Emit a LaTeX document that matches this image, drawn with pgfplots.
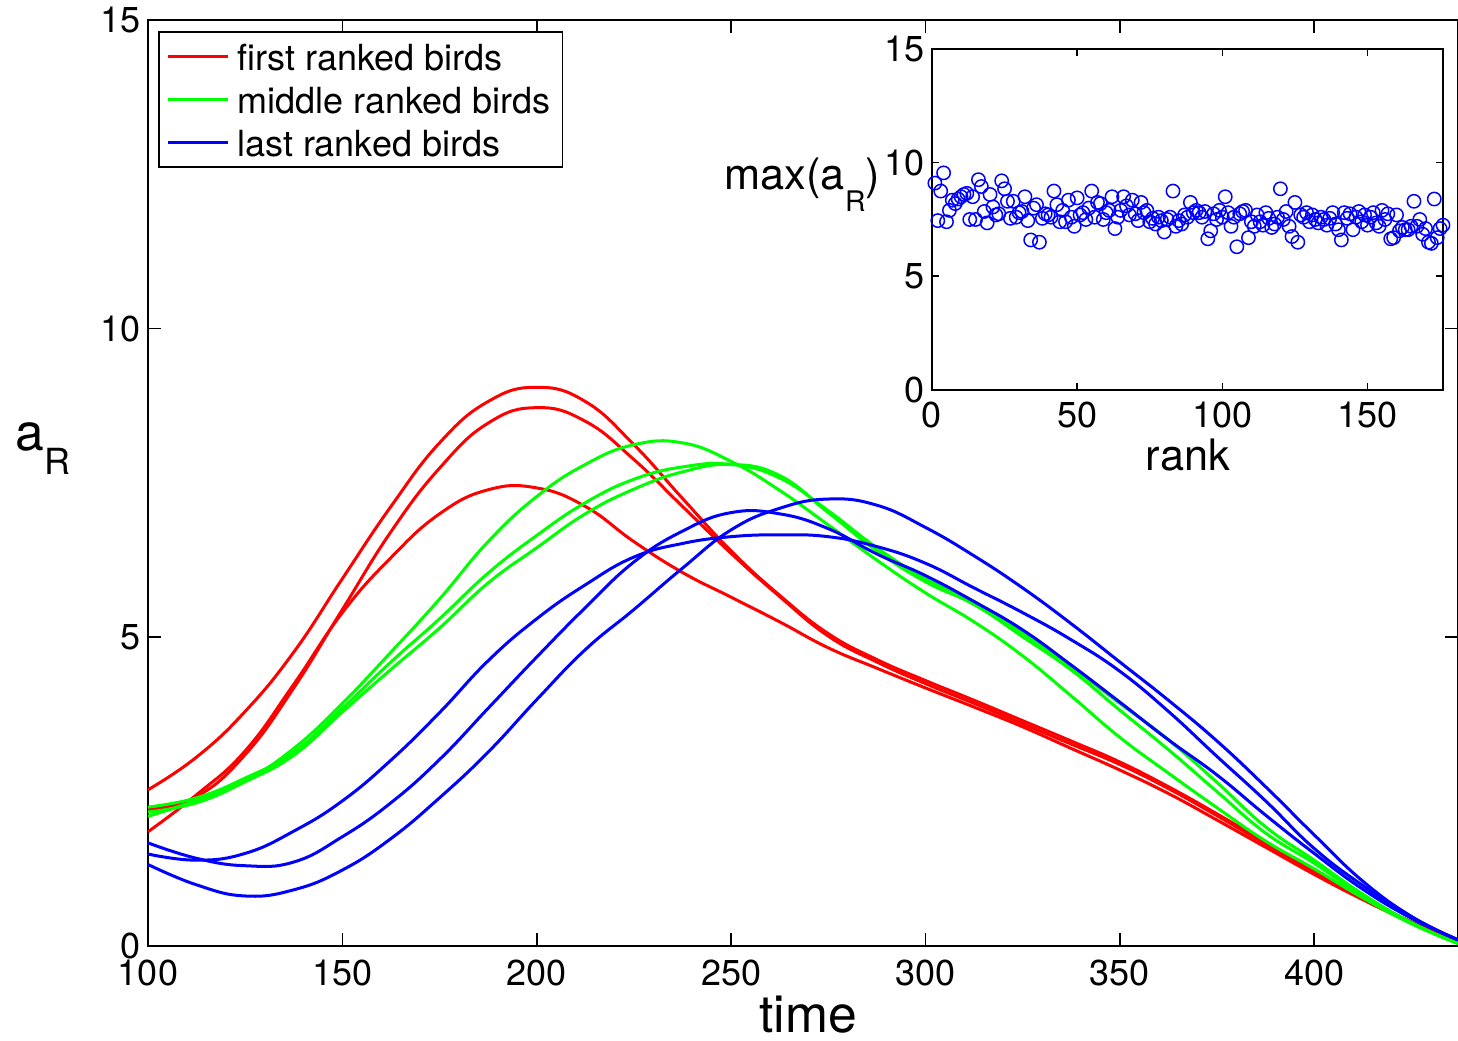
\documentclass[border=0pt]{standalone}
\usepackage{fontspec}
\setmainfont{TeX Gyre Heros}
\usepackage{pgfplots}
\usepackage{pgfplotstable}
\pgfplotsset{compat=1.18}
\newcommand\tkf{\fontsize{10.8}{13}\selectfont}
\tikzset{crv/.style={line width=0.9pt, smooth, tension=0.75}}

\pgfplotstableread{
x     RA   RB   RC   GA   GB   GC   BA   BB   BC
100   2.53 2.21 1.85 2.10 2.25 2.17 1.67 1.49 1.32
112.5 3.06 2.42 2.45 2.36 2.40 2.32 1.42 1.39 0.99
125   3.80 3.10 3.16 2.68 2.72 2.66 1.30 1.50 0.81
137.5 4.76 4.18 4.24 3.20 3.14 3.09 1.36 1.86 0.91
150   5.95 5.45 5.40 3.93 3.85 3.79 1.77 2.35 1.23
162.5 7.12 6.71 6.29 4.76 4.60 4.48 2.32 3.01 1.74
175   8.15 7.74 7.00 5.62 5.30 5.15 3.02 3.78 2.40
187.5 8.82 8.47 7.39 6.55 6.04 5.88 3.85 4.62 3.14
200   9.05 8.72 7.42 7.28 6.65 6.45 4.68 5.30 3.99
212.5 8.82 8.50 7.12 7.80 7.18 7.00 5.48 5.85 4.80
225   8.12 7.88 6.55 8.12 7.56 7.40 6.22 6.30 5.45
237.5 7.25 7.12 6.05 8.15 7.76 7.68 6.72 6.52 6.12
250   6.40 6.36 5.65 7.85 7.80 7.80 7.02 6.63 6.74
262.5 5.68 5.66 5.25 7.38 7.58 7.62 7.00 6.66 7.09
275   5.06 5.02 4.83 6.82 7.05 7.02 6.76 6.63 7.24
287.5 4.64 4.60 4.50 6.25 6.45 6.40 6.35 6.47 7.14
300   4.30 4.25 4.18 5.72 5.95 5.90 6.00 6.20 6.78
312.5 3.98 3.93 3.87 5.25 5.58 5.53 5.58 5.80 6.32
325   3.65 3.60 3.55 4.70 5.07 5.01 5.12 5.40 5.80
337.5 3.32 3.27 3.20 4.05 4.52 4.47 4.55 4.96 5.22
350   2.98 2.94 2.85 3.38 3.93 3.82 3.95 4.45 4.60
362.5 2.58 2.55 2.47 2.80 3.34 3.18 3.34 3.80 3.98
375   2.14 2.11 2.04 2.24 2.65 2.50 2.77 3.07 3.32
387.5 1.68 1.65 1.60 1.70 1.93 1.83 2.12 2.35 2.58
400   1.22 1.20 1.16 1.25 1.39 1.34 1.50 1.58 1.80
412.5 0.78 0.77 0.75 0.78 0.84 0.81 0.92 0.98 1.05
425   0.39 0.39 0.38 0.36 0.38 0.37 0.45 0.47 0.48
437   0.07 0.07 0.07 0.04 0.04 0.04 0.10 0.10 0.10
}\curves

\pgfplotstableread{
r v
1 9.10
2 7.45
3 8.75
4 9.55
5 7.40
6 7.90
7 8.35
8 8.20
9 8.40
10 8.50
11 8.60
12 8.65
13 7.50
14 8.50
15 7.50
16 9.25
17 8.95
18 7.85
19 7.35
20 8.60
21 8.05
22 7.70
23 7.75
24 9.20
25 8.85
26 8.30
27 7.55
28 8.30
29 7.60
30 7.80
31 7.85
32 8.50
33 7.45
34 6.60
35 8.00
36 8.15
37 6.50
38 7.55
39 7.75
40 7.70
41 7.60
42 8.75
43 8.15
44 7.40
45 7.90
46 7.40
47 8.35
48 7.60
49 7.20
50 8.45
51 7.70
52 7.80
53 7.50
54 8.00
55 8.75
56 7.60
57 8.25
58 8.20
59 7.50
60 7.80
61 7.90
62 8.50
63 7.10
64 7.60
65 7.90
66 8.50
67 8.10
68 7.70
69 8.35
70 7.75
71 7.45
72 8.25
73 7.80
74 7.90
75 7.40
76 7.55
77 7.30
78 7.60
79 7.45
80 6.95
81 7.50
82 7.60
83 8.75
84 7.20
85 7.45
86 7.30
87 7.70
88 7.60
89 8.25
90 7.80
91 7.90
92 7.80
93 7.60
94 7.85
95 6.65
96 7.00
97 7.75
98 7.50
99 7.90
100 7.60
101 8.50
102 7.80
103 7.20
104 7.60
105 6.30
106 7.75
107 7.85
108 7.90
109 6.70
110 7.40
111 7.20
112 7.70
113 7.40
114 7.25
115 7.80
116 7.55
117 7.15
118 7.30
119 7.60
120 8.85
121 7.50
122 7.85
123 7.20
124 6.75
125 8.25
126 6.50
127 7.70
128 7.60
129 7.80
130 7.40
131 7.70
132 7.50
133 7.35
134 7.60
135 7.50
136 7.25
137 7.55
138 7.80
139 7.30
140 7.05
141 6.60
142 7.80
143 7.55
144 7.75
145 7.05
146 7.60
147 7.85
148 7.40
149 7.70
150 7.25
151 7.60
152 7.80
153 7.35
154 7.20
155 7.90
156 7.50
157 7.75
158 6.65
159 6.70
160 7.70
161 7.00
162 7.15
163 7.05
164 7.05
165 7.20
166 8.30
167 7.20
168 7.50
169 6.85
170 7.10
171 6.50
172 6.45
173 8.40
174 6.70
175 7.10
176 7.25
}\ranks

\begin{document}
\begin{tikzpicture}
\useasboundingbox (-44.4pt,-28.5pt) rectangle (393pt,283.8pt);
\begin{axis}[
  at={(0pt,0pt)}, anchor=south west,
  width=393pt, height=277.8pt, scale only axis,
  xmin=100, xmax=437, ymin=0, ymax=15,
  xtick={100,150,200,250,300,350,400}, ytick={0,5,10,15},
  clip mode=individual,
  tick align=inside, major tick length=4pt,
  axis line style={line width=0.5pt},
  every tick/.style={black, line width=0.5pt},
  tick label style={font=\tkf},
  /pgf/number format/assume math mode=true,
  yticklabel style={inner xsep=2pt},
  xticklabel style={yshift=-0.6pt},
  legend cell align=left,
  legend style={at={(axis description cs:0.00763,0.98812)}, anchor=north west,
    draw=black, line width=0.5pt, fill=white, font=\tkf,
    inner xsep=2.4pt, inner ysep=0.9pt, row sep=0pt,
    nodes={inner ysep=1.2pt, inner xsep=1.2pt, text height=9.6pt, text depth=0.9pt}},
  legend image code/.code={\draw[#1, line width=0.9pt] (0pt,0pt) -- (18pt,0pt); \path (19pt,0pt);},
]
\addplot[red, crv] table[x=x, y=RA] {\curves};
\addlegendentry{first ranked birds}
\addplot[red, crv, forget plot] table[x=x, y=RB] {\curves};
\addplot[red, crv, forget plot] table[x=x, y=RC] {\curves};
\addplot[green, crv] table[x=x, y=GA] {\curves};
\addlegendentry{middle ranked birds}
\addplot[green, crv, forget plot] table[x=x, y=GB] {\curves};
\addplot[green, crv, forget plot] table[x=x, y=GC] {\curves};
\addplot[blue, crv] table[x=x, y=BA] {\curves};
\addlegendentry{last ranked birds}
\addplot[blue, crv, forget plot] table[x=x, y=BB] {\curves};
\addplot[blue, crv, forget plot] table[x=x, y=BC] {\curves};
\node[anchor=base west, inner sep=0pt, font=\fontsize{15.5}{18}\selectfont] at (axis description cs:-0.1015,0.5356) {a\raisebox{-7.3pt}{\fontsize{10.8}{12}\selectfont R}};
\node[anchor=base, inner sep=0pt, font=\fontsize{15.5}{18}\selectfont, yshift=-26.1pt] at (axis description cs:0.5038,0) {time};
\end{axis}

\begin{axis}[
  at={(235.2pt,166.8pt)}, anchor=south west,
  width=153.3pt, height=102.3pt, scale only axis,
  xmin=0, xmax=176, ymin=0, ymax=15,
  xtick={0,50,100,150}, ytick={0,5,10,15},
  axis background/.style={fill=white},
  clip=false,
  tick align=inside, major tick length=2pt,
  axis line style={line width=0.5pt},
  every tick/.style={black, line width=0.5pt},
  tick label style={font=\tkf},
  /pgf/number format/assume math mode=true,
  yticklabel style={inner xsep=2pt},
]
\addplot[only marks, blue, mark=o, mark size=2pt, mark options={line width=0.45pt}] table[x=r, y=v] {\ranks};
\node[anchor=base, inner sep=0pt, font=\fontsize{13}{15}\selectfont, yshift=-24.3pt] at (axis description cs:0.501,0) {rank};
\node[anchor=base west, inner sep=0pt, font=\fontsize{13}{15}\selectfont] at (axis description cs:-0.407,0.5865) {max(a\raisebox{-6.4pt}{\fontsize{8.5}{10}\selectfont R})};
\end{axis}
\end{tikzpicture}
\end{document}
